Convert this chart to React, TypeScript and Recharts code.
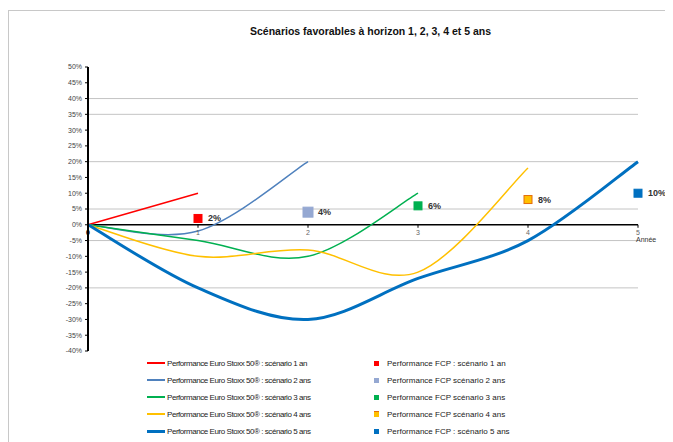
import React from 'react';
import { ComposedChart, Line, Scatter, XAxis, YAxis, ReferenceLine, ReferenceDot } from 'recharts';

// ---- data ----
const years = [0, 1, 2, 3, 4, 5];
const stoxx1 = [0, 10];
const stoxx2 = [0, -2, 20];
const stoxx3 = [0, -5, -10, 10];
const stoxx4 = [0, -10, -8, -15, 18];
const stoxx5 = [0, -20, -30, -17, -5, 20];
const fcpYears = [1, 2, 3, 4, 5];
const fcpValues = [2, 4, 6, 8, 10];
const fcpLabels = ['2%', '4%', '6%', '8%', '10%'];
const yTicks = [-40, -35, -30, -25, -20, -15, -10, -5, 0, 5, 10, 15, 20, 25, 30, 35, 40, 45, 50];
const gridValues = [40, 35, 20, 5, -5, -20];
const xTickLabels = ['0', '1', '2', '3', '4', '5'];
const title = 'Scénarios favorables à horizon 1, 2, 3, 4 et 5 ans';
const stoxxNames = [
  'Performance Euro Stoxx 50® : scénario 1 an',
  'Performance Euro Stoxx 50® : scénario 2 ans',
  'Performance Euro Stoxx 50® : scénario 3 ans',
  'Performance Euro Stoxx 50® : scénario 4 ans',
  'Performance Euro Stoxx 50® : scénario 5 ans',
];
const fcpNames = [
  'Performance FCP : scénario 1 an',
  'Performance FCP  scénario 2 ans',
  'Performance FCP  scénario 3 ans',
  'Performance FCP  scénario 4 ans',
  'Performance FCP : scénario 5 ans',
];

const lineColors = ['#FF0000', '#4F81BD', '#00B050', '#FFC000', '#0070C0'];
const lineWidths = [1.5, 1.5, 1.5, 1.5, 3];
const fcpColors = ['#FF0000', '#95A8D2', '#00B050', '#FFC000', '#0070C0'];
const fcpStrokes = ['#FF0000', '#95A8D2', '#00B050', '#E46C0A', '#0070C0'];
const fcpSizes = [8, 10, 8, 8, 8];

const series = [stoxx1, stoxx2, stoxx3, stoxx4, stoxx5];
const table = years.map((x, i) => {
  const row: any = { x };
  series.forEach((s, k) => {
    if (i < s.length) row['s' + (k + 1)] = s[i];
  });
  return row;
});

// Excel-like smoothed line (Catmull-Rom style bezier)
function excelCurve(context: any) {
  let pts: number[][] = [];
  return {
    areaStart() {},
    areaEnd() {},
    lineStart() {
      pts = [];
    },
    point(x: number, y: number) {
      pts.push([+x, +y]);
    },
    lineEnd() {
      const n = pts.length;
      if (!n) return;
      context.moveTo(pts[0][0], pts[0][1]);
      for (let i = 0; i < n - 1; i++) {
        const p0 = pts[Math.max(i - 1, 0)];
        const p1 = pts[i];
        const p2 = pts[i + 1];
        const p3 = pts[Math.min(i + 2, n - 1)];
        context.bezierCurveTo(
          p1[0] + (p2[0] - p0[0]) / 6,
          p1[1] + (p2[1] - p0[1]) / 6,
          p2[0] - (p3[0] - p1[0]) / 6,
          p2[1] - (p3[1] - p1[1]) / 6,
          p2[0],
          p2[1]
        );
      }
    },
  };
}

const FONT = '"Liberation Sans", Arial, sans-serif';

const makeXTick = (label: string, last: boolean, first: boolean) => (props: any) => {
  const { cx, cy } = props;
  return (
    <g>
      {!first && <line x1={cx} x2={cx} y1={cy} y2={cy + 3} stroke="#000" strokeWidth={1} />}
      <text x={cx} y={cy + 10} textAnchor="middle" fontSize={7} fill={first ? '#000' : '#666'} fontFamily={FONT} fontWeight={first ? 'bold' : 'normal'}>
        {label}
      </text>
      {last && (
        <text x={cx - 2} y={cy + 17} textAnchor="start" fontSize={7} fill="#333" fontFamily={FONT}>
          Année
        </text>
      )}
    </g>
  );
};

const makeFcpShape = (k: number) => (props: any) => {
  const { cx, cy } = props;
  const s = fcpSizes[k];
  return (
    <g>
      <rect x={cx - s / 2} y={cy - s / 2} width={s} height={s} fill={fcpColors[k]} stroke={fcpStrokes[k]} strokeWidth={1} />
      <text x={cx + 10} y={cy + 3} fontSize={9} fontWeight="bold" fill="#333" fontFamily={FONT}>
        {fcpLabels[k]}
      </text>
    </g>
  );
};

const LegendBlock = () => (
  <div style={{ position: 'absolute', left: 0, top: 349, width: 665, fontFamily: FONT, fontSize: 8, color: '#222' }}>
    {stoxxNames.map((name, k) => (
      <div key={'l' + k} style={{ position: 'absolute', top: k * 17, left: 139, height: 12, display: 'flex', alignItems: 'center', whiteSpace: 'nowrap' }}>
        <span style={{ display: 'inline-block', width: 18, height: k === 4 ? 3 : 2, background: lineColors[k], marginRight: 2 }} />
        <span style={{ letterSpacing: -0.45 }}>{name}</span>
      </div>
    ))}
    {fcpNames.map((name, k) => (
      <div key={'f' + k} style={{ position: 'absolute', top: k * 17, left: 366, height: 12, display: 'flex', alignItems: 'center', whiteSpace: 'nowrap' }}>
        <span style={{ display: 'inline-block', width: 5, height: 5, background: fcpColors[k], borderTop: k === 3 ? '1px solid #E46C0A' : undefined, marginRight: 8 }} />
        <span>{name}</span>
      </div>
    ))}
  </div>
);

export default function App() {
  return (
    <div style={{ position: 'relative', width: 665, height: 434, fontFamily: FONT }}>
      <div style={{ position: 'absolute', left: 0, top: 2, width: 665, height: 432, borderTop: '1px solid #c8c8c8', borderLeft: '1px solid #c8c8c8', boxSizing: 'border-box' }} />
      <div style={{ position: 'absolute', left: 0, top: 17, width: 725, textAlign: 'center', fontSize: 10.5, fontWeight: 'bold', color: '#111' }}>{title}</div>
      <ComposedChart width={665} height={434} data={table} margin={{ top: 59, right: 35, bottom: 91, left: 0 }} style={{ position: 'absolute', left: 0, top: 0 }}>
        <XAxis dataKey="x" type="number" domain={[0, 5]} hide />
        <YAxis
          type="number"
          domain={[-40, 50]}
          ticks={yTicks}
          interval={0}
          width={80}
          tickFormatter={(v: number) => `${v}%`}
          tick={{ fontSize: 7, fill: '#444', fontFamily: FONT }}
          tickSize={3}
          tickMargin={3}
          axisLine={{ stroke: '#000', strokeWidth: 2 }}
          tickLine={{ stroke: '#000' }}
        />
        {gridValues.map((v) => (
          <ReferenceLine key={'g' + v} y={v} stroke="#c4c4c4" strokeWidth={1} />
        ))}
        <ReferenceLine y={0} stroke="#000" strokeWidth={1.5} />
        {years.map((x, i) => (
          <ReferenceDot key={'xt' + x} x={x} y={0} r={0} shape={makeXTick(xTickLabels[i], i === years.length - 1, i === 0)} />
        ))}
        {series.map((_, k) => (
          <Line
            key={'s' + k}
            dataKey={'s' + (k + 1)}
            name={stoxxNames[k]}
            type={excelCurve as any}
            stroke={lineColors[k]}
            strokeWidth={lineWidths[k]}
            dot={false}
            activeDot={false}
            isAnimationActive={false}
          />
        ))}
        {fcpYears.map((yr, k) => (
          <Scatter
            key={'f' + k}
            name={fcpNames[k]}
            data={[{ x: yr, y: fcpValues[k] }]}
            dataKey="y"
            shape={makeFcpShape(k)}
            isAnimationActive={false}
          />
        ))}
      </ComposedChart>
      <LegendBlock />
    </div>
  );
}
